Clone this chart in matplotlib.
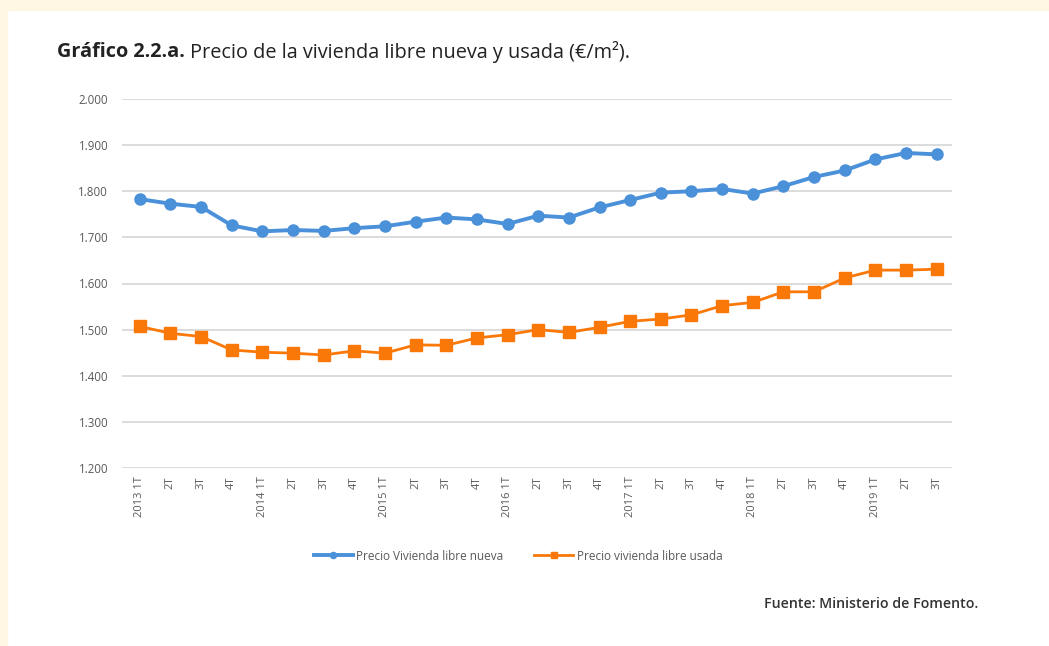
import matplotlib.pyplot as plt
from matplotlib.patches import Rectangle

# Datos (euros/m2)
quarters = ['2013 1T', '2T', '3T', '4T',
            '2014 1T', '2T', '3T', '4T',
            '2015 1T', '2T', '3T', '4T',
            '2016 1T', '2T', '3T', '4T',
            '2017 1T', '2T', '3T', '4T',
            '2018 1T', '2T', '3T', '4T',
            '2019 1T', '2T', '3T']
precio_nueva = [1783, 1773, 1766, 1726, 1713, 1716, 1714, 1720, 1724, 1734,
                1743, 1739, 1729, 1747, 1743, 1765, 1781, 1797, 1800, 1805,
                1795, 1811, 1831, 1845, 1869, 1883, 1880]
precio_usada = [1507, 1492, 1485, 1456, 1451, 1449, 1445, 1454, 1449, 1467,
                1466, 1482, 1489, 1500, 1494, 1505, 1518, 1523, 1532, 1552,
                1559, 1582, 1582, 1612, 1629, 1629, 1631]
y_ticks = [1200, 1300, 1400, 1500, 1600, 1700, 1800, 1900, 2000]

BLUE = '#4A91DA'
ORANGE = '#FA7808'
GREY = '#595959'

plt.rcParams['font.family'] = ['Open Sans', 'DejaVu Sans']

fig = plt.figure(figsize=(10.49, 6.46), dpi=100)
fig.patch.set_facecolor('white')
# marco crema de la captura
fig.add_artist(Rectangle((0, 1 - 10 / 646), 1, 10 / 646, transform=fig.transFigure,
                         color='#FFF7E4', zorder=0))
fig.add_artist(Rectangle((0, 0), 7 / 1049, 1, transform=fig.transFigure,
                         color='#FFF7E4', zorder=0))

ax = fig.add_axes([122 / 1049, 1 - 468 / 646, 830 / 1049, 369 / 646])
x = list(range(len(quarters)))
ax.plot(x, precio_nueva, color=BLUE, lw=2.8, marker='o', ms=8,
        label='Precio Vivienda libre nueva', zorder=3)
ax.plot(x, precio_usada, color=ORANGE, lw=2.0, marker='s', ms=8,
        label='Precio vivienda libre usada', zorder=3)

ax.set_ylim(1200, 2000)
ax.set_xlim(-0.58, 26.5)
ax.set_yticks(y_ticks)
ax.set_yticklabels([f'{v:,}'.replace(',', '.') for v in y_ticks],
                   fontsize=8.3, color=GREY)
ax.set_xticks(x)
ax.set_xticklabels(quarters, rotation=90, fontsize=8, color=GREY)
ax.tick_params(length=0)
ax.tick_params(axis='y', pad=10)
ax.tick_params(axis='x', pad=6)
ax.grid(axis='y', color='#D9D9D9', lw=1.3)
ax.set_axisbelow(True)
for s in ax.spines.values():
    s.set_visible(False)

ax.legend(loc='center', bbox_to_anchor=(518 / 1049, 1 - 556 / 646),
          bbox_transform=fig.transFigure, ncol=2, frameon=False,
          fontsize=8.5, handlelength=3.3, handletextpad=0.3, columnspacing=2.6,
          labelcolor=GREY, markerscale=0.55)

# titulo: parte en negrita + parte normal
t1 = fig.text(57 / 1049, 1 - 52 / 646, 'Gráfico 2.2.a.', fontsize=14.3,
              fontweight='bold', color='#222222', va='center')
fig.canvas.draw()
bb = t1.get_window_extent()
fig.text((bb.x1 + 5) / 1049, 1 - 52 / 646,
         'Precio de la vivienda libre nueva y usada (€/m²).', fontsize=14.3,
         color='#222222', va='center')

fig.text(978 / 1049, 1 - 604 / 646, 'Fuente: Ministerio de Fomento.',
         fontsize=10.2, fontweight='semibold', color='#333333',
         ha='right', va='center')

fig.savefig('out.png', dpi=100)
